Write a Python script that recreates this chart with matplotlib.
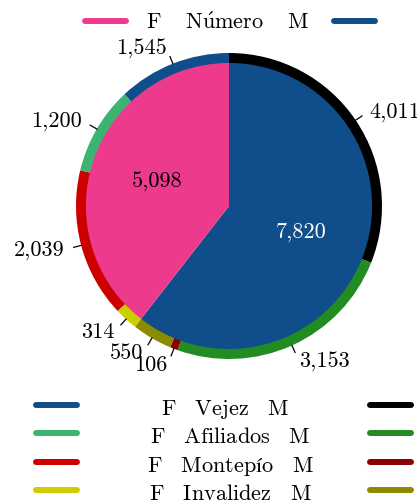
import matplotlib
matplotlib.use("Agg")
import matplotlib.pyplot as plt
import numpy as np

plt.rcParams["font.family"] = "cmr10"
plt.rcParams["mathtext.fontset"] = "cm"
plt.rcParams["axes.unicode_minus"] = False

# totales por sexo (anillo interior)
sexo = ["M", "F"]
total_sexo = [7820, 5098]
col_sexo = ["#104E8B", "#EE3A8C"]

# pensionistas por tipo (anillo exterior)
tipos = ["Vejez", "Afiliados", "Montepío", "Invalidez"]
masculino = [4011, 3153, 106, 550]
femenino = [1545, 1200, 2039, 314]
col_m = ["#000000", "#228B22", "#8B0000", "#8B8B00"]
col_f = ["#104E8B", "#3CB371", "#CD0000", "#CDCD00"]

W, H = 417, 502
cx, cy, R = 229, 207, 153
fs = 16

fig = plt.figure(figsize=(W / 100, H / 100), dpi=100)

half = 162
ax = fig.add_axes([(cx - half) / W, (H - cy - half) / H, 2 * half / W, 2 * half / H])

# anillo interior
_, _, auto = ax.pie(total_sexo, radius=0.94, colors=col_sexo, startangle=90,
                    counterclock=False, autopct=lambda p: "", pctdistance=0.53,
                    textprops=dict(fontsize=fs))
for t, v, c in zip(auto, total_sexo, ["white", "black"]):
    t.set_text(f"{v:,}")
    t.set_color(c)

# anillo exterior: M en sentido horario y luego F en orden inverso
valores = masculino + femenino[::-1]
colores = col_m + col_f[::-1]
wedges, _ = ax.pie(valores, radius=1.0, colors=colores, startangle=90,
                   counterclock=False, wedgeprops=dict(width=0.065),
                   labels=[f"{v:,}" for v in valores], labeldistance=1.11,
                   textprops=dict(fontsize=fs))
for w in wedges:
    th = np.deg2rad((w.theta1 + w.theta2) / 2)
    ax.plot([1.0 * np.cos(th), 1.05 * np.cos(th)],
            [1.0 * np.sin(th), 1.05 * np.sin(th)], color="black", lw=0.9)

lim = half / R
ax.set_xlim(-lim, lim)
ax.set_ylim(-lim, lim)

# leyendas en coordenadas de pixel
lg = fig.add_axes([0, 0, 1, 1], zorder=-1)
lg.set_xlim(0, W)
lg.set_ylim(H, 0)
lg.axis("off")

lw = 4.3
lg.plot([85, 126], [22, 22], color=col_sexo[1], lw=lw, solid_capstyle="round")
lg.plot([334, 375], [22, 22], color=col_sexo[0], lw=lw, solid_capstyle="round")
lg.text(228, 29, r"$\mathrm{F\quad\;N\acute{u}mero\quad\;M}$", ha="center",
        va="baseline", fontsize=fs)

filas = [406, 434, 463, 491]
centros = [225, 230, 231, 230]
for y, x, tipo, cf, cm in zip(filas, centros, tipos, col_f, col_m):
    lg.plot([36, 77], [y, y], color=cf, lw=lw, solid_capstyle="round")
    lg.plot([370, 411], [y, y], color=cm, lw=lw, solid_capstyle="round")
    lg.text(x, y + 9, r"$\mathrm{F\quad " + tipo + r"\quad M}$", ha="center",
            va="baseline", fontsize=fs)

fig.savefig("out.png", dpi=100)
